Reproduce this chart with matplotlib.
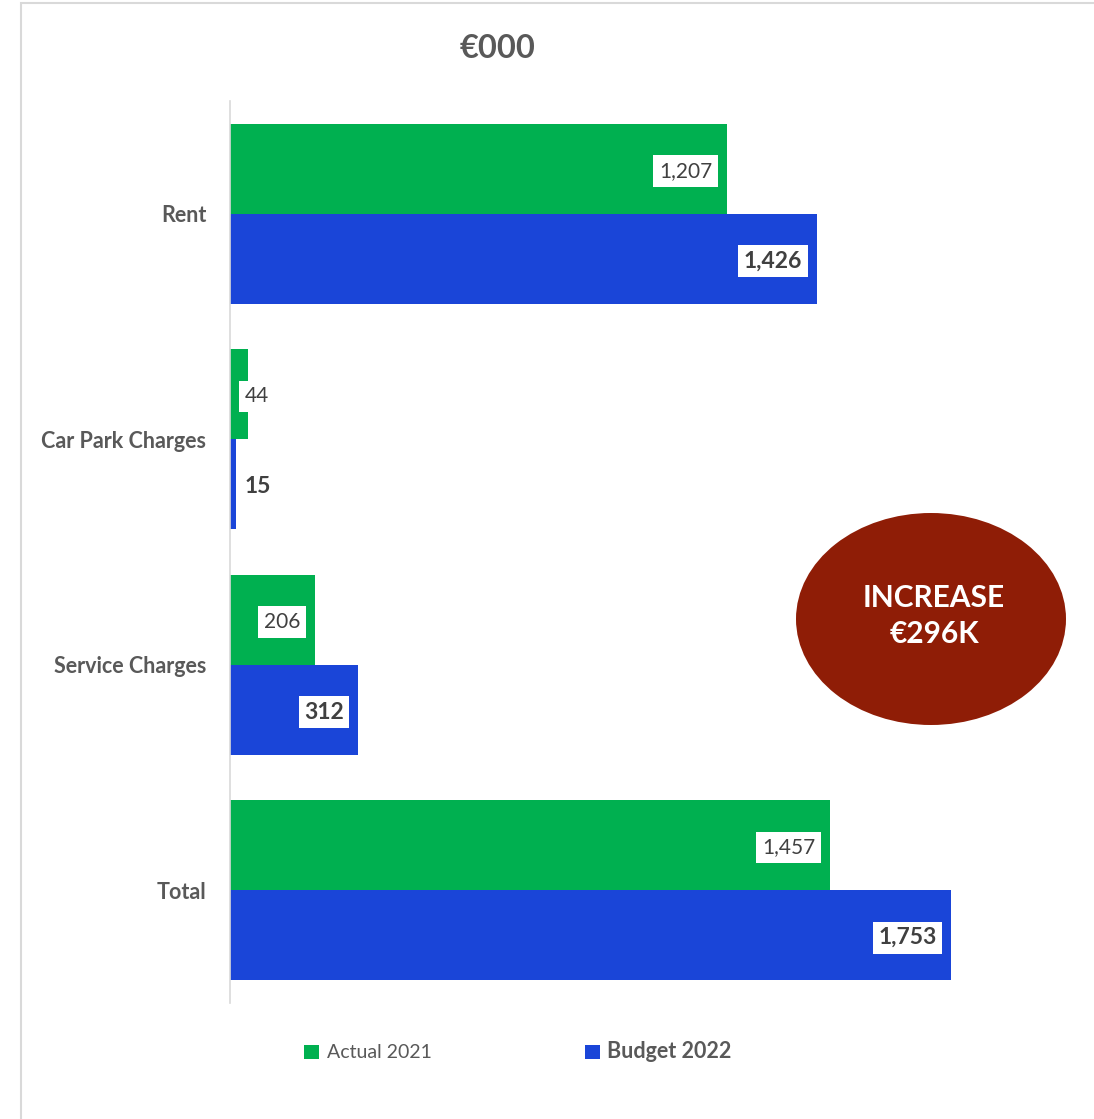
import matplotlib.pyplot as plt
import numpy as np
from matplotlib.patches import Ellipse, Rectangle

plt.rcParams['font.family'] = ['Lato', 'DejaVu Sans']

# 数据
categories = ['Rent', 'Car Park Charges', 'Service Charges', 'Total']
actual_2021 = [1207, 44, 206, 1457]
budget_2022 = [1426, 15, 312, 1753]
series_names = ['Actual 2021', 'Budget 2022']

green = '#00B050'
blue = '#1A45D8'
gray = '#595959'

fig = plt.figure(figsize=(10.94, 11.19), dpi=100)
ax = fig.add_axes([0.2102, 0.1037, 0.7523, 0.806])

y = np.arange(len(categories))
h = 0.4
bars_a = ax.barh(y - h / 2, actual_2021, height=h, color=green, label=series_names[0])
bars_b = ax.barh(y + h / 2, budget_2022, height=h, color=blue, label=series_names[1])

ax.set_xlim(0, 2000)
ax.set_ylim(len(categories) - 0.5, -0.5)
ax.set_yticks(y)
ax.set_yticklabels(categories, fontsize=15.5, fontweight='bold', color=gray)
ax.tick_params(axis='y', length=0, pad=17)
ax.set_xticks([])
for s in ['top', 'right', 'bottom']:
    ax.spines[s].set_visible(False)
ax.spines['left'].set_color('#D9D9D9')
ax.spines['left'].set_linewidth(1.2)

# 数据标签
def add_labels(bars, vals, bold):
    fs = 16.5 if bold else 15
    for b, v in zip(bars, vals):
        yc = b.get_y() + b.get_height() / 2 + 0.01
        txt = f'{v:,}'
        box = dict(facecolor='white', edgecolor='none', pad=4)
        if v < 150:
            ax.text(36, yc, txt, ha='left', va='center', fontsize=fs,
                    fontweight='bold' if bold else 'normal', color='#404040',
                    bbox=box if not bold else None)
        else:
            ax.text(v - 35, yc, txt, ha='right', va='center', fontsize=fs,
                    fontweight='bold' if bold else 'normal', color='#404040', bbox=box)

add_labels(bars_a, actual_2021, False)
add_labels(bars_b, budget_2022, True)

# 标题
fig.text(498 / 1094, 1 - 48 / 1119, '€000', ha='center', va='center',
         fontsize=23.5, fontweight='bold', color=gray)

# 图例
leg = fig.legend(handles=[bars_a, bars_b], loc='center', ncol=2,
                 bbox_to_anchor=(518 / 1094, 1 - 1052 / 1119), frameon=False,
                 fontsize=14, handlelength=0.75, handleheight=0.75,
                 handletextpad=0.4, columnspacing=7.9)
for t in leg.get_texts():
    t.set_color(gray)
leg.get_texts()[1].set_fontweight('bold')
leg.get_texts()[1].set_fontsize(15.5)

# 椭圆标注
ell = Ellipse((931 / 1094, 1 - 619 / 1119), 270 / 1094, 212 / 1119,
              transform=fig.transFigure, facecolor='#8F1D06', edgecolor='none')
fig.patches.append(ell)
fig.text(934 / 1094, 1 - 616 / 1119, 'INCREASE\n€296K', ha='center', va='center',
         fontsize=21.5, fontweight='bold', color='white', linespacing=1.35)

# 外框
frame = Rectangle((21 / 1094, -0.01), 1.1, 1 - 3 / 1119 + 0.01, transform=fig.transFigure,
                  facecolor='none', edgecolor='#D9D9D9', linewidth=1.5)
fig.patches.append(frame)

plt.savefig('out.png', dpi=100)
